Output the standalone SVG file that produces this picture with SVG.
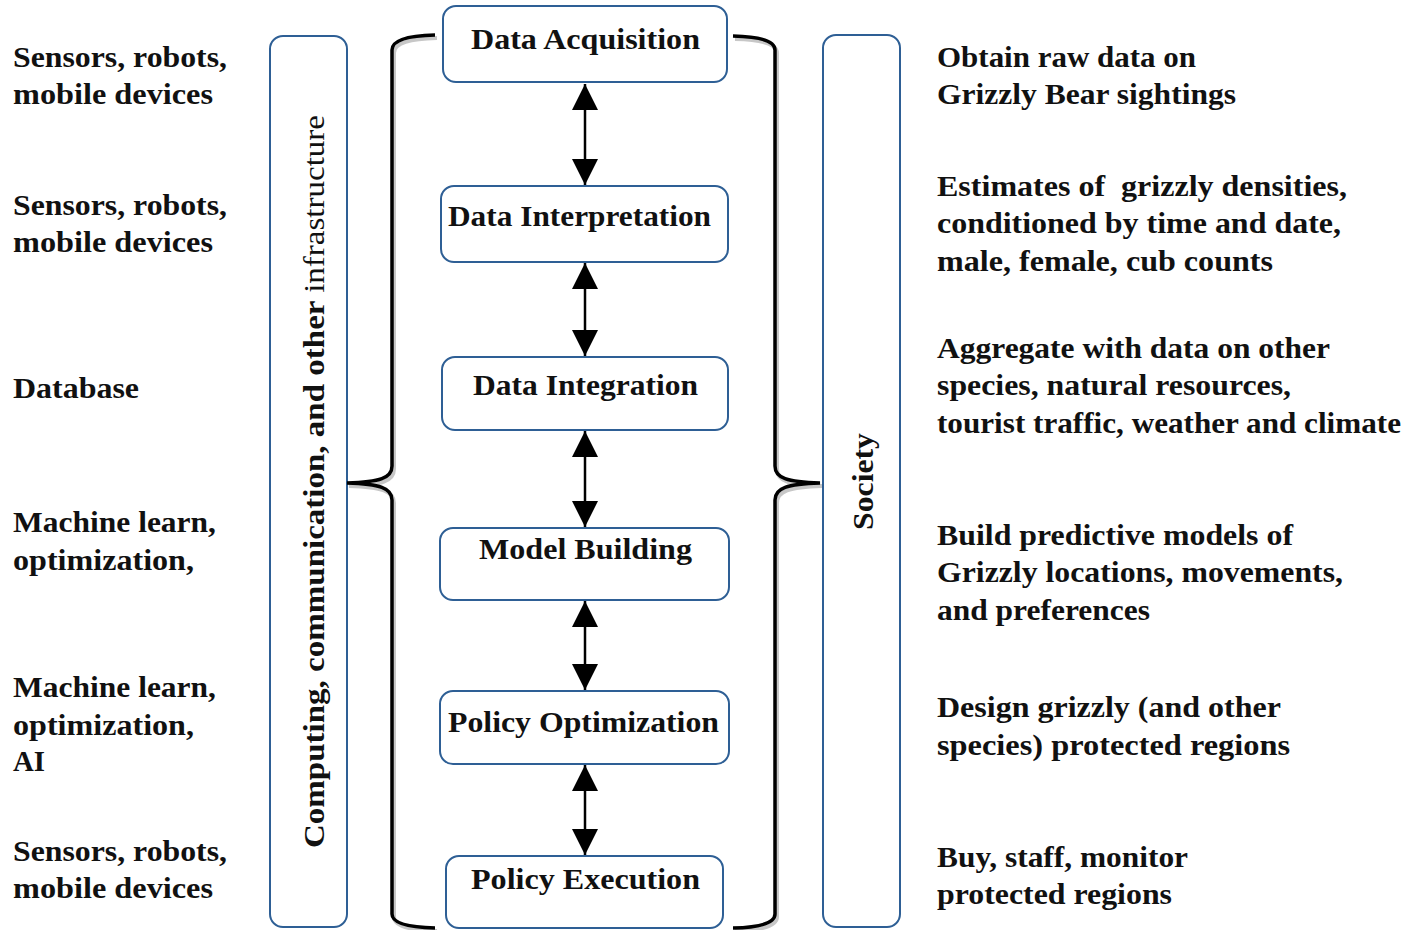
<svg xmlns="http://www.w3.org/2000/svg" width="1415" height="930" viewBox="0 0 1415 930">
<defs>
<style>
.box{fill:#fff;stroke:#2e5f95;stroke-width:2}
.t{font-family:"Liberation Serif","Times New Roman",serif;font-weight:bold;font-size:29px;fill:#111}
.nt{font-family:"Liberation Serif","Times New Roman",serif;font-weight:bold;font-size:29px;fill:#111;text-anchor:middle}
.vt{font-family:"Liberation Serif","Times New Roman",serif;font-size:30px;fill:#111}
.brace{fill:none;stroke:#000;stroke-width:3.5}
.shadow{fill:none;stroke:#000;stroke-opacity:0.22;stroke-width:4}
.conn{stroke:#000;stroke-width:2.5;fill:none}
</style>
<marker id="ah" viewBox="0 0 26 26" refX="26" refY="13" markerWidth="26" markerHeight="26" markerUnits="userSpaceOnUse" orient="auto-start-reverse">
<path d="M0,0 L26,13 L0,26 Z" fill="#000"/>
</marker>
</defs>
<rect width="1415" height="930" fill="#fff"/>

<g id="infrastructure">
<rect class="box" x="270" y="36" width="77" height="891" rx="13"/>
<text class="vt" transform="translate(324,848) rotate(-90)" textLength="733" lengthAdjust="spacingAndGlyphs"><tspan font-weight="bold">Computing, communication, and other </tspan><tspan>infrastructure</tspan></text>
</g>

<g id="society">
<rect class="box" x="823" y="35" width="77" height="892" rx="13"/>
<text class="vt" font-weight="bold" transform="translate(873,530) rotate(-90)" textLength="97" lengthAdjust="spacingAndGlyphs">Society</text>
</g>

<g id="braces">
<path class="shadow" transform="translate(2,3)" d="M435,35 Q392,36 392,50 L392,466 C392,478 380,482 347,483 C380,484 392,488 392,500 L392,914 Q392,927 435,928"/>
<path class="shadow" transform="translate(2,3)" d="M733,36 Q775,37 775,50 L775,466 C775,478 787,482 820,483 C787,484 775,488 775,500 L775,914 Q775,927 733,928"/>
<path class="brace" d="M435,35 Q392,36 392,50 L392,466 C392,478 380,482 347,483 C380,484 392,488 392,500 L392,914 Q392,927 435,928"/>
<path class="brace" d="M733,36 Q775,37 775,50 L775,466 C775,478 787,482 820,483 C787,484 775,488 775,500 L775,914 Q775,927 733,928"/>
</g>

<g id="n1"><rect class="box" x="443" y="6" width="284" height="76" rx="13"/><text class="nt" x="585.5" y="49" textLength="229" lengthAdjust="spacingAndGlyphs">Data Acquisition</text></g>
<g id="n2"><rect class="box" x="441" y="186" width="287" height="76" rx="13"/><text class="nt" x="579.5" y="226" textLength="263" lengthAdjust="spacingAndGlyphs">Data Interpretation</text></g>
<g id="n3"><rect class="box" x="442" y="357" width="286" height="73" rx="13"/><text class="nt" x="585.5" y="395" textLength="225" lengthAdjust="spacingAndGlyphs">Data Integration</text></g>
<g id="n4"><rect class="box" x="440" y="528" width="289" height="72" rx="13"/><text class="nt" x="585.5" y="559" textLength="213" lengthAdjust="spacingAndGlyphs">Model Building</text></g>
<g id="n5"><rect class="box" x="440" y="691" width="289" height="73" rx="13"/><text class="nt" x="583.5" y="732" textLength="271" lengthAdjust="spacingAndGlyphs">Policy Optimization</text></g>
<g id="n6"><rect class="box" x="446" y="856" width="277" height="72" rx="13"/><text class="nt" x="585.5" y="889" textLength="229" lengthAdjust="spacingAndGlyphs">Policy Execution</text></g>

<g id="connectors">
<line class="conn" x1="585" y1="84" x2="585" y2="185" marker-start="url(#ah)" marker-end="url(#ah)"/>
<line class="conn" x1="585" y1="263" x2="585" y2="356" marker-start="url(#ah)" marker-end="url(#ah)"/>
<line class="conn" x1="585" y1="431" x2="585" y2="527" marker-start="url(#ah)" marker-end="url(#ah)"/>
<line class="conn" x1="585" y1="601" x2="585" y2="690" marker-start="url(#ah)" marker-end="url(#ah)"/>
<line class="conn" x1="585" y1="765" x2="585" y2="855" marker-start="url(#ah)" marker-end="url(#ah)"/>
</g>

<g id="left-labels">
<text class="t" x="13" y="67" textLength="214" lengthAdjust="spacingAndGlyphs">Sensors, robots,</text>
<text class="t" x="13" y="104" textLength="200" lengthAdjust="spacingAndGlyphs">mobile devices</text>
<text class="t" x="13" y="215" textLength="214" lengthAdjust="spacingAndGlyphs">Sensors, robots,</text>
<text class="t" x="13" y="252" textLength="200" lengthAdjust="spacingAndGlyphs">mobile devices</text>
<text class="t" x="13" y="398" textLength="126" lengthAdjust="spacingAndGlyphs">Database</text>
<text class="t" x="13" y="532" textLength="203" lengthAdjust="spacingAndGlyphs">Machine learn,</text>
<text class="t" x="13" y="570" textLength="181" lengthAdjust="spacingAndGlyphs">optimization,</text>
<text class="t" x="13" y="697" textLength="203" lengthAdjust="spacingAndGlyphs">Machine learn,</text>
<text class="t" x="13" y="735" textLength="181" lengthAdjust="spacingAndGlyphs">optimization,</text>
<text class="t" x="13" y="771" textLength="32" lengthAdjust="spacingAndGlyphs">AI</text>
<text class="t" x="13" y="861" textLength="214" lengthAdjust="spacingAndGlyphs">Sensors, robots,</text>
<text class="t" x="13" y="898" textLength="200" lengthAdjust="spacingAndGlyphs">mobile devices</text>
</g>

<g id="right-labels">
<text class="t" x="937" y="67" textLength="259" lengthAdjust="spacingAndGlyphs">Obtain raw data on</text>
<text class="t" x="937" y="104" textLength="299" lengthAdjust="spacingAndGlyphs">Grizzly Bear sightings</text>
<text class="t" x="937" y="196" textLength="410" lengthAdjust="spacingAndGlyphs" xml:space="preserve">Estimates of  grizzly densities,</text>
<text class="t" x="937" y="233" textLength="404" lengthAdjust="spacingAndGlyphs">conditioned by time and date,</text>
<text class="t" x="937" y="271" textLength="336" lengthAdjust="spacingAndGlyphs">male, female, cub counts</text>
<text class="t" x="937" y="358" textLength="393" lengthAdjust="spacingAndGlyphs">Aggregate with data on other</text>
<text class="t" x="937" y="395" textLength="354" lengthAdjust="spacingAndGlyphs">species, natural resources,</text>
<text class="t" x="937" y="433" textLength="464" lengthAdjust="spacingAndGlyphs">tourist traffic, weather and climate</text>
<text class="t" x="937" y="545" textLength="356" lengthAdjust="spacingAndGlyphs">Build predictive models of</text>
<text class="t" x="937" y="582" textLength="406" lengthAdjust="spacingAndGlyphs">Grizzly locations, movements,</text>
<text class="t" x="937" y="620" textLength="213" lengthAdjust="spacingAndGlyphs">and preferences</text>
<text class="t" x="937" y="717" textLength="344" lengthAdjust="spacingAndGlyphs">Design grizzly (and other</text>
<text class="t" x="937" y="755" textLength="353" lengthAdjust="spacingAndGlyphs">species) protected regions</text>
<text class="t" x="937" y="867" textLength="251" lengthAdjust="spacingAndGlyphs">Buy, staff, monitor</text>
<text class="t" x="937" y="904" textLength="235" lengthAdjust="spacingAndGlyphs">protected regions</text>
</g>
</svg>
